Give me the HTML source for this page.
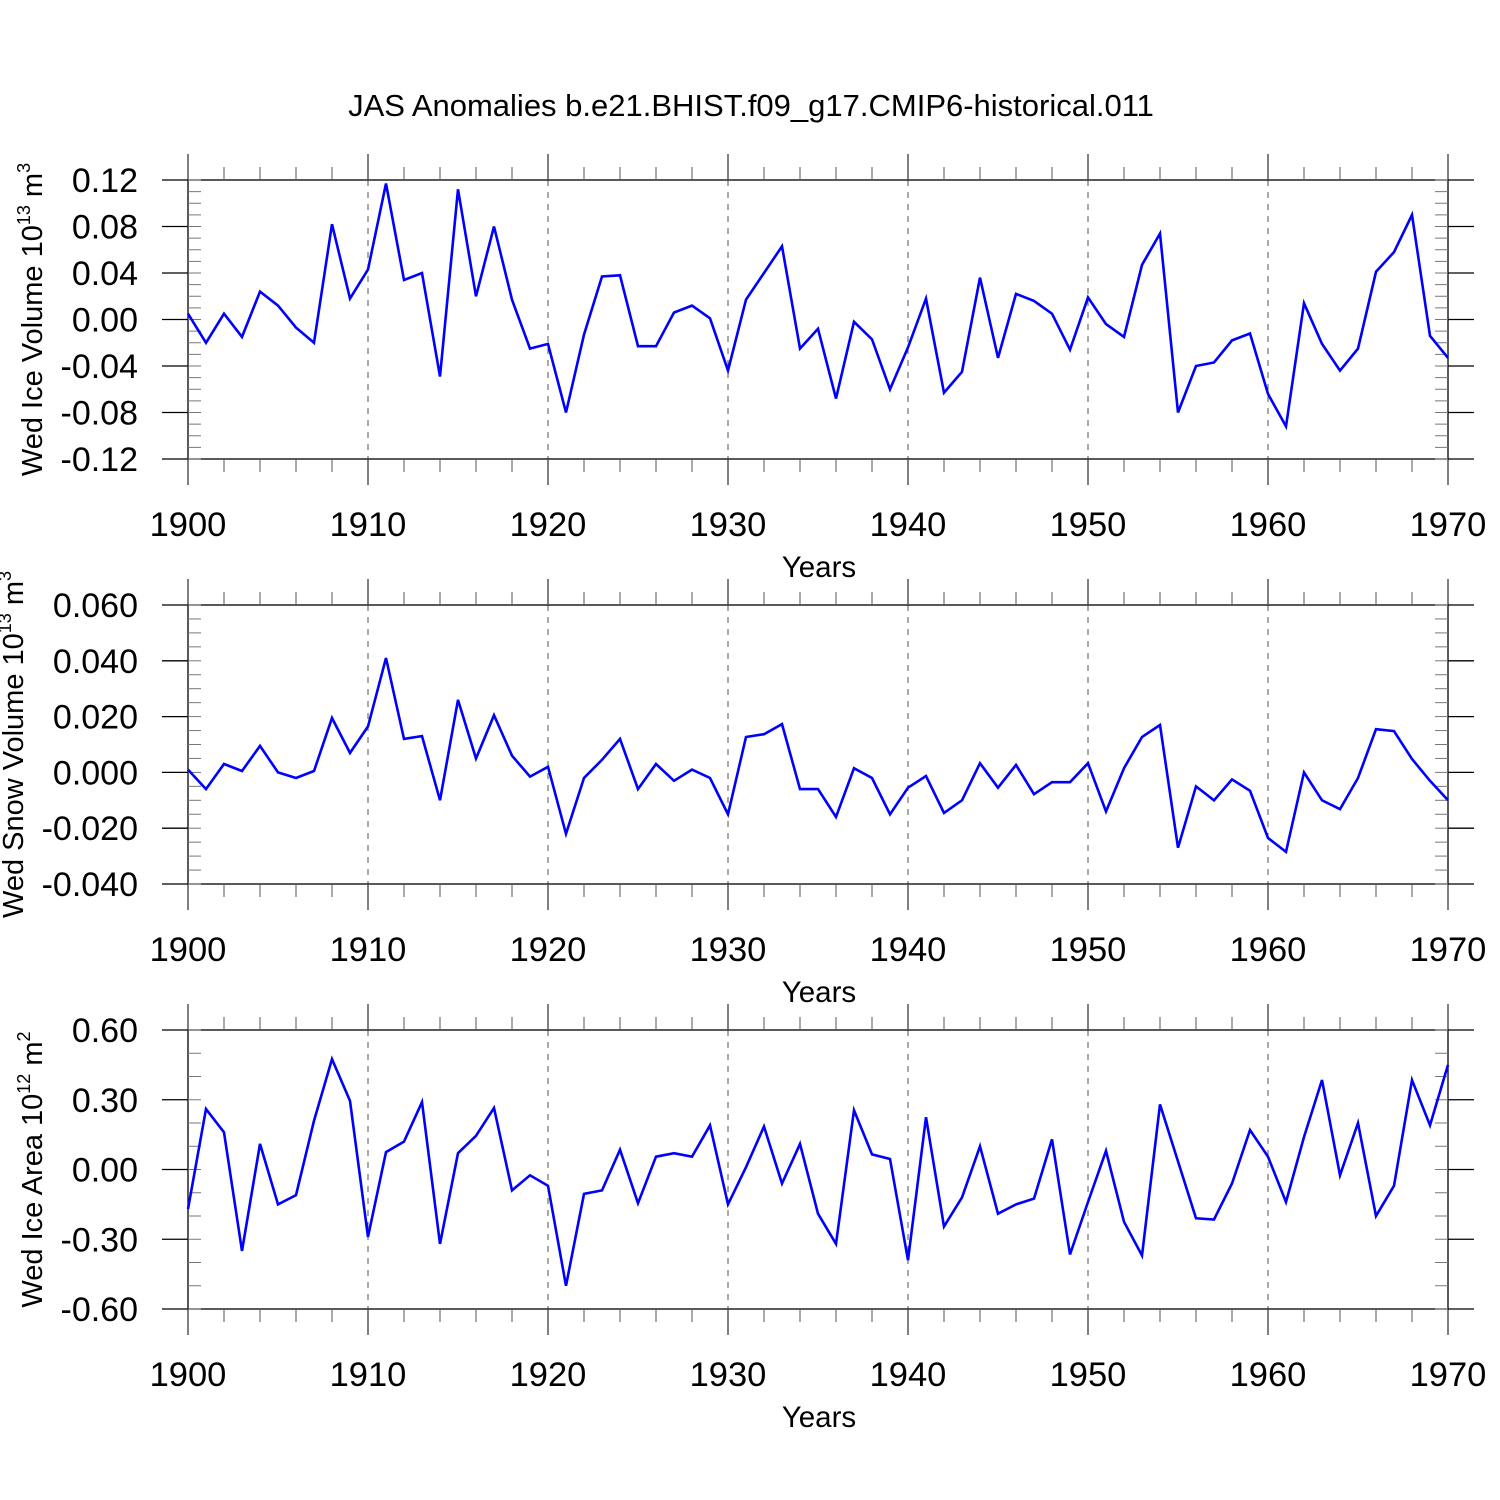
<!DOCTYPE html>
<html><head><meta charset="utf-8"><style>
html,body{margin:0;padding:0;background:#fff;}
svg{display:block;font-family:"Liberation Sans",sans-serif;}
</style></head><body>
<svg id="chart" width="1500" height="1500" viewBox="0 0 1500 1500" xmlns="http://www.w3.org/2000/svg">
<rect width="1500" height="1500" fill="#fff"/>
<text x="751" y="116" font-size="31" text-anchor="middle">JAS Anomalies b.e21.BHIST.f09_g17.CMIP6-historical.011</text>
</svg>
<script>
const years = [];
for (let y = 1900; y <= 1970; y++) years.push(y);
const xTickLabels = ["1900","1910","1920","1930","1940","1950","1960","1970"];
const iceVolume = [0.005,-0.020,0.005,-0.015,0.024,0.012,-0.007,-0.020,0.082,0.018,0.043,0.117,0.034,0.040,-0.049,0.112,0.020,0.080,0.017,-0.025,-0.021,-0.080,-0.013,0.037,0.038,-0.023,-0.023,0.006,0.012,0.001,-0.044,0.017,0.040,0.063,-0.025,-0.008,-0.068,-0.002,-0.017,-0.060,-0.024,0.018,-0.063,-0.045,0.036,-0.033,0.022,0.016,0.005,-0.026,0.019,-0.004,-0.015,0.047,0.074,-0.080,-0.040,-0.037,-0.018,-0.012,-0.064,-0.092,0.014,-0.021,-0.044,-0.025,0.041,0.058,0.090,-0.014,-0.033];
const snowVolume = [0.001,-0.006,0.003,0.0005,0.0095,0,-0.002,0.0005,0.0195,0.007,0.0165,0.041,0.012,0.013,-0.010,0.026,0.005,0.0205,0.006,-0.0015,0.002,-0.022,-0.002,0.0045,0.012,-0.006,0.003,-0.003,0.001,-0.002,-0.015,0.0127,0.0137,0.0173,-0.006,-0.006,-0.016,0.0015,-0.002,-0.015,-0.0055,-0.0013,-0.0145,-0.010,0.0033,-0.0055,0.0027,-0.0078,-0.0035,-0.0035,0.0033,-0.014,0.0015,0.0127,0.017,-0.027,-0.005,-0.010,-0.0025,-0.0066,-0.0235,-0.0285,0,-0.010,-0.0132,-0.002,0.0155,0.0148,0.0048,-0.003,-0.010];
const iceArea = [-0.17,0.26,0.16,-0.35,0.11,-0.15,-0.11,0.21,0.475,0.295,-0.29,0.075,0.12,0.29,-0.32,0.07,0.145,0.265,-0.09,-0.025,-0.07,-0.50,-0.105,-0.09,0.085,-0.145,0.055,0.07,0.055,0.19,-0.15,0.01,0.185,-0.06,0.11,-0.19,-0.32,0.255,0.065,0.045,-0.39,0.225,-0.245,-0.12,0.10,-0.19,-0.15,-0.125,0.13,-0.365,-0.14,0.08,-0.225,-0.37,0.28,0.035,-0.21,-0.215,-0.06,0.17,0.055,-0.14,0.14,0.385,-0.025,0.20,-0.20,-0.07,0.385,0.19,0.45];
const yTicks1 = ["0.12","0.08","0.04","0.00","-0.04","-0.08","-0.12"];
const yTicks2 = ["0.060","0.040","0.020","0.000","-0.020","-0.040"];
const yTicks3 = ["0.60","0.30","0.00","-0.30","-0.60"];

const NS = "http://www.w3.org/2000/svg";
const svg = document.getElementById("chart");
function mk(tag, attrs, parent) {
  const e = document.createElementNS(NS, tag);
  for (const k in attrs) e.setAttribute(k, attrs[k]);
  (parent || svg).appendChild(e);
  return e;
}
const X0 = 188, X1 = 1448, Y0 = 1900, Y1 = 1970;
function xs(yr) { return X0 + (yr - Y0) / (Y1 - Y0) * (X1 - X0); }

const panels = [
  {name:"ice-volume", top:180, bot:459, vmax:0.12, vmin:-0.12, ticks:yTicks1, minor:0.01, data:iceVolume, title:"Wed Ice Volume 10", exp:"13", unit:" m", uexp:"3", tx:42},
  {name:"snow-volume", top:605, bot:884, vmax:0.06, vmin:-0.04, ticks:yTicks2, minor:0.005, data:snowVolume, title:"Wed Snow Volume 10", exp:"13", unit:" m", uexp:"3", tx:23},
  {name:"ice-area", top:1030, bot:1309, vmax:0.6, vmin:-0.6, ticks:yTicks3, minor:0.1, data:iceArea, title:"Wed Ice Area 10", exp:"12", unit:" m", uexp:"2", tx:42}
];

panels.forEach(p => {
  const g = mk("g", {});
  
  
  const ys = v => p.top + (p.vmax - v) / (p.vmax - p.vmin) * (p.bot - p.top);
  for (let yr = 1910; yr <= 1960; yr += 10) {
    const l = mk("line", {x1:xs(yr), x2:xs(yr), y1:p.top, y2:p.bot, stroke:"#555", "stroke-width":1, "stroke-dasharray":"6,6"}, g);
    
    
  }
  const fr = mk("rect", {x:X0, y:p.top, width:X1-X0, height:p.bot-p.top, fill:"none", stroke:"#000", "stroke-width":1.3}, g);
  
  
  for (let yr = 1900; yr <= 1970; yr += 2) {
    const major = (yr % 10 === 0);
    const len = major ? 26 : 13;
    mk("line", {x1:xs(yr), x2:xs(yr), y1:p.top - len, y2:p.top, stroke:"#555", "stroke-width":major?1.5:1}, g);
    mk("line", {x1:xs(yr), x2:xs(yr), y1:p.bot, y2:p.bot + len, stroke:"#555", "stroke-width":major?1.5:1}, g);
  }
  xTickLabels.forEach(t => {
    const tx = mk("text", {x:xs(+t), y:p.bot + 77, "font-size":34.5, "text-anchor":"middle"}, g);
    tx.textContent = t;
    
    
  });
  const xt = mk("text", {x:819, y:p.bot + 118, "font-size":29.5, "text-anchor":"middle"}, g);
  xt.textContent = "Years";
  
  
  const nMinor = Math.round((p.vmax - p.vmin) / p.minor);
  for (let i = 0; i <= nMinor; i++) {
    const v = p.vmin + i * p.minor;
    const y = ys(v);
    mk("line", {x1:X0, x2:X0 + 13, y1:y, y2:y, stroke:"#777", "stroke-width":1}, g);
    mk("line", {x1:X1 - 13, x2:X1, y1:y, y2:y, stroke:"#777", "stroke-width":1}, g);
  }
  p.ticks.forEach(t => {
    const y = ys(parseFloat(t));
    mk("line", {x1:X0 - 26, x2:X0, y1:y, y2:y, stroke:"#000", "stroke-width":1.3}, g);
    mk("line", {x1:X1, x2:X1 + 26, y1:y, y2:y, stroke:"#000", "stroke-width":1.3}, g);
    const tx = mk("text", {x:138, y:y + 12, "font-size":34, "text-anchor":"end"}, g);
    tx.textContent = t;
    
    
  });
  const cy = (p.top + p.bot) / 2;
  const yt = mk("text", {x:0, y:0, "font-size":29, "text-anchor":"middle", transform:`translate(${p.tx},${cy}) rotate(-90)`}, g);
  
  
  const s1 = mk("tspan", {}, yt); s1.textContent = p.title;
  const s2 = mk("tspan", {dy:-12, "font-size":18}, yt); s2.textContent = p.exp;
  const s3 = mk("tspan", {dy:12}, yt); s3.textContent = p.unit;
  const s4 = mk("tspan", {dy:-12, "font-size":18}, yt); s4.textContent = p.uexp;
  const pts = years.map((yr, i) => xs(yr).toFixed(1) + "," + ys(p.data[i]).toFixed(1)).join(" ");
  const pl = mk("polyline", {points:pts, fill:"none", stroke:"#0000ff", "stroke-width":2.6, "stroke-linejoin":"miter"}, g);
  
  
});
</script>
</body></html>
